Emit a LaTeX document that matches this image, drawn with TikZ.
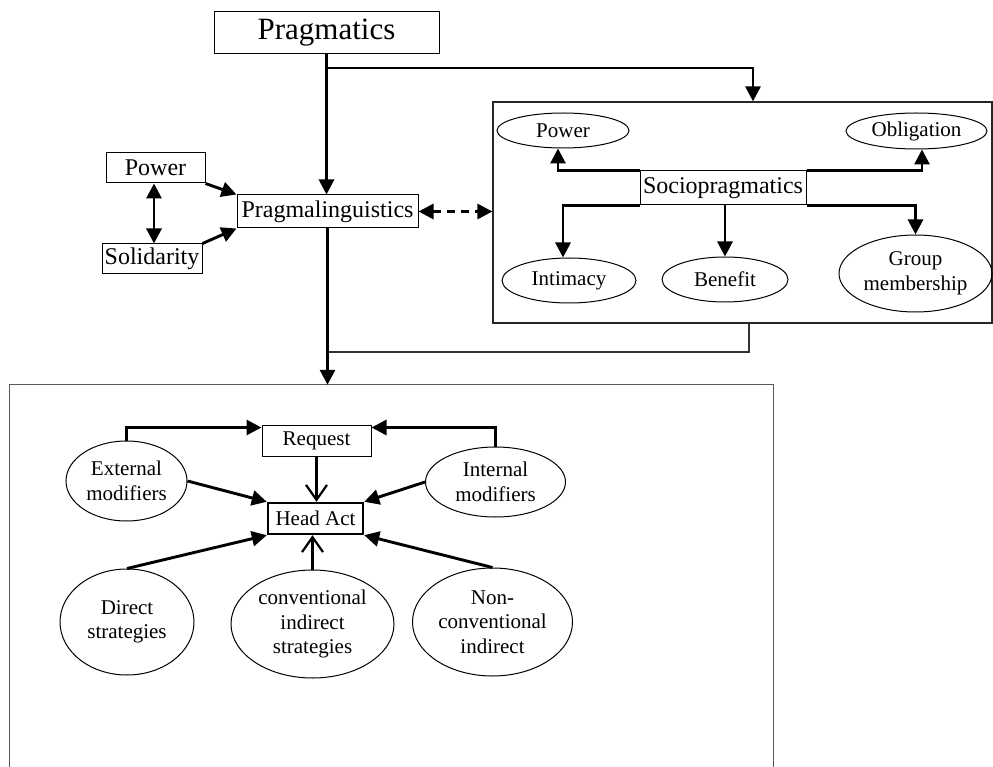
\documentclass[tikz,border=0pt]{standalone}
\usepackage{fontspec}
\setmainfont{Liberation Serif}
\usetikzlibrary{shapes.geometric, arrows.meta}

\begin{document}
\begin{tikzpicture}[x=1pt,y=-1pt,
  box/.style={draw, rectangle, inner sep=0pt, fill=white, line width=1pt, font=\fontsize{24}{28}\selectfont},
  oval/.style={draw, ellipse, inner sep=0pt, align=center, line width=1pt, font=\fontsize{21}{24.5}\selectfont},
  conn/.style={line width=2.9pt, -{Triangle[length=15pt,width=15pt]}},
  bothconn/.style={line width=2.9pt, {Triangle[length=15pt,width=15pt]}-{Triangle[length=15pt,width=15pt]}},
  openconn/.style={line width=2.2pt, -{Straight Barb[length=15pt,width=21pt,line width=2.2pt]}},
  thinline/.style={line width=1.2pt, black!80}]
\useasboundingbox (0,0) rectangle (993,767);
\node[box, minimum width=225, minimum height=42, font=\fontsize{31}{36}\selectfont] (prag) at (326.5,33) {Pragmatics};
\node[box, minimum width=181, minimum height=33] (pling) at (327.5,211.5) {Pragmalinguistics};
\node[box, minimum width=99, minimum height=30] (power) at (155.5,168) {Power};
\node[box, minimum width=100, minimum height=30] (solid) at (152,259) {Solidarity};
\node[draw, black!85, line width=1.2pt, minimum width=499, minimum height=221] (sociobox) at (742.5,212.5) {};
\node[box, minimum width=166, minimum height=34] (spr) at (723,188) {Sociopragmatics};
\node[oval, minimum width=132, minimum height=35] (spower) at (563,130.5) {Power};
\node[oval, minimum width=141, minimum height=36] (soblig) at (916.5,131) {Obligation};
\node[oval, minimum width=134, minimum height=45] (sintim) at (569,280.5) {Intimacy};
\node[oval, minimum width=126, minimum height=45] (sbenef) at (725,279.5) {Benefit};
\node[oval, minimum width=153, minimum height=77] (sgroup) at (915.5,273.5) {Group\\membership};
\node[minimum width=763, minimum height=382] (bigbox) at (391.5,576) {};
\node[box, minimum width=109, minimum height=31, font=\fontsize{21}{24}\selectfont] (request) at (316.5,440.5) {Request};
\node[box, line width=2.4pt, minimum width=95, minimum height=31, font=\fontsize{21}{24}\selectfont] (head) at (315.5,518.5) {Head Act};
\node[oval, minimum width=121, minimum height=80] (ext) at (126.5,481) {External\\modifiers};
\node[oval, minimum width=140, minimum height=70] (int) at (495.5,482) {Internal\\modifiers};
\node[oval, minimum width=134, minimum height=106] (dir) at (127,622) {Direct\\strategies};
\node[oval, minimum width=163, minimum height=108] (conv) at (312.5,624) {conventional\\indirect\\strategies};
\node[oval, minimum width=160, minimum height=108] (noncv) at (492.5,622) {Non-\\conventional\\indirect};
\coordinate (split) at (326.5,68);
\coordinate (merge) at (327.5,352);

\draw[line width=1.3pt, black!65] (bigbox.south west) -- (bigbox.north west) -- (bigbox.north east) -- (bigbox.south east);
\draw[conn] (prag.south) -- (prag.south |- pling.north);
\draw[conn] (split) -| ([xshift=10.5pt]sociobox.north);
\draw[conn] (power.south east) -- (pling.north west);
\draw[conn] (solid.north east) -- (pling.south west);
\draw[bothconn] ([xshift=-1.5pt]power.south) -- ([xshift=2pt]solid.north);
\draw[bothconn, dash pattern=on 8pt off 6pt] (pling.east) -- (pling.east -| sociobox.west);
\draw[conn] (spr.north west) -| ([xshift=-5pt]spower.south);
\draw[conn] (spr.north east) -| ([xshift=5.5pt]soblig.south);
\draw[conn] (spr.south west) -| ([xshift=-6pt]sintim.north);
\draw[conn] (spr.south -| sbenef.north) -- (sbenef.north);
\draw[conn] (spr.south east) -| (sgroup.north);
\draw[thinline] ([xshift=6.5pt]sociobox.south) |- (merge);
\draw[conn] (pling.south) -- (pling.south |- bigbox.north);
\draw[conn] (ext.north) |- ([yshift=13pt]request.west);
\draw[conn] (int.north) |- ([yshift=13pt]request.east);
\draw[openconn] (request.south) -- (request.south |- head.north);
\draw[conn] (ext.east) -- (head.north west);
\draw[conn] (int.west) -- (head.north east);
\draw[conn] (dir.north) -- (head.south west);
\draw[openconn] (conv.north) -- (conv.north |- head.south);
\draw[conn] (noncv.north) -- (head.south east);
\end{tikzpicture}
\end{document}
